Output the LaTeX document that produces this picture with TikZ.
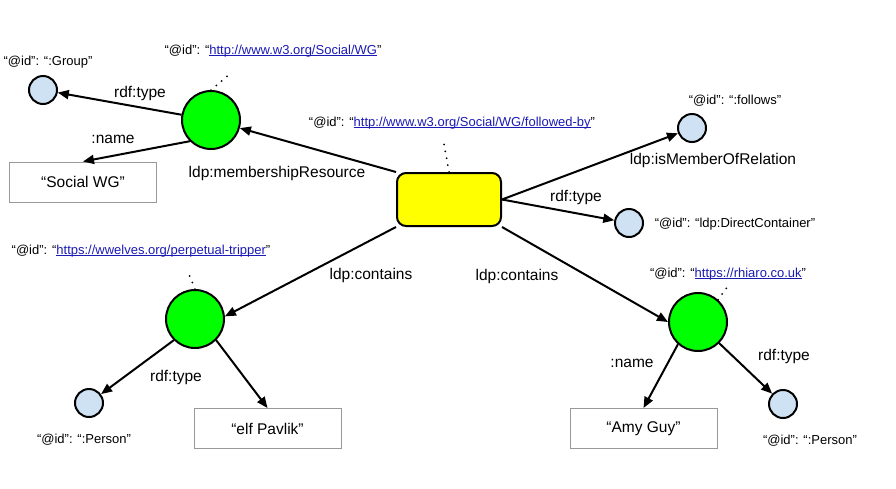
\documentclass[tikz,border=0pt]{standalone}
\usepackage{fontspec}
\setmainfont{Liberation Sans}
\usepackage{xcolor}
\usetikzlibrary{arrows.meta}
\definecolor{resgreen}{HTML}{00FF00}
\definecolor{collyellow}{HTML}{FFFF00}
\definecolor{clsblue}{HTML}{CFE2F3}
\definecolor{linkblue}{HTML}{1A1AB4}
\definecolor{litgray}{HTML}{999999}
\newcommand{\lnk}[1]{\textcolor{linkblue}{\setbox0\hbox{#1}\rlap{\rule[-1.6pt]{\wd0}{0.9pt}}\box0}}

\begin{document}
\begin{tikzpicture}[x=1pt, y=-1pt, >={Triangle[length=11pt,width=9pt]}, line width=2pt,
    res/.style={circle, draw, fill=resgreen, minimum size=58pt, inner sep=0pt},
    cls/.style={circle, draw, fill=clsblue, minimum size=28pt, inner sep=0pt},
    container/.style={draw, fill=collyellow, rounded corners=9pt, minimum width=104pt, minimum height=53pt},
    lit/.style={draw=litgray, line width=1pt, minimum width=147pt, minimum height=40pt, font=\fontsize{15.5}{18}\selectfont},
    lbl/.style={font=\fontsize{15.5}{18}\selectfont, inner sep=0pt},
    idl/.style={font=\fontsize{13}{15}\selectfont, inner sep=0pt},
    dots/.style={line width=2pt, line cap=round, dash pattern=on 0pt off 7pt}]
    \useasboundingbox (0,0) rectangle (896,488);

    % resources and values
    \node[container] (coll) at (449,199.5) {};
    \node[res] (wg) at (211,120) {};
    \node[cls] (grp) at (43,90) {};
    \node[lit] (wgname) at (83,182) {“Social WG”};
    \node[cls] (follows) at (692,128) {};
    \node[cls] (dc) at (629,223) {};
    \node[res] (elf) at (195,319) {};
    \node[cls] (elfcls) at (89,403) {};
    \node[lit] (elfname) at (267.5,428.5) {“elf Pavlik”};
    \node[res] (amy) at (698,322) {};
    \node[cls] (amycls) at (783,404) {};
    \node[lit] (amyname) at (643.5,428.5) {“Amy Guy”};

    % ids
    \node[idl] (grpid) at (48,62) {“@id”: “:Group”};
    \node[idl] (wgid) at (273,51) {“@id”: “\lnk{http://www.w3.org/Social/WG}”};
    \node[idl] (collid) at (452,123) {“@id”: “\lnk{http://www.w3.org/Social/WG/followed-by}”};
    \node[idl] (followsid) at (735,101) {“@id”: “:follows”};
    \node[idl] (dcid) at (735,224) {“@id”: “ldp:DirectContainer”};
    \node[idl] (elfid) at (141,251) {“@id”: “\lnk{https://wwelves.org/perpetual-tripper}”};
    \node[idl] (elfclsid) at (84,440) {“@id”: “:Person”};
    \node[idl] (amyid) at (728,274) {“@id”: “\lnk{https://rhiaro.co.uk}”};
    \node[idl] (amyclsid) at (810,441) {“@id”: “:Person”};

    % dots towards the ids
    \coordinate (wgdot) at (232,72);
    \coordinate (colldot) at (444,144);
    \coordinate (elfdot) at (188,272);
    \coordinate (amydot) at (728,286);
    \draw[dots] (wg.north) -- (wgdot);
    \draw[dots] (coll.north) -- (colldot);
    \draw[dots] (elf.north) -- (elfdot);
    \draw[dots] (amy.48) -- (amydot);

    % properties
    \draw[->] (coll.north west) -- (wg);
    \draw[->] (wg) -- (grp);
    \draw[->] (wg.225) -- (wgname.north);
    \draw[->] (coll.east) -- (follows);
    \draw[->] (coll.east) -- (dc);
    \draw[->] (coll.south west) -- (elf.5);
    \draw[->] (coll.south east) -- (amy.west);
    \draw[->] (elf.225) -- (elfcls);
    \draw[->] (elf.-45) -- (elfname.north);
    \draw[->] (amy.228) -- (amyname.north);
    \draw[->] (amy.-45) -- (amycls);

    \node[lbl] (wgtype) at (140,93) {rdf:type};
    \node[lbl] (wgnamelbl) at (113,139) {:name};
    \node[lbl] (memres) at (277,173) {ldp:membershipResource};
    \node[lbl] (memrel) at (713,160) {ldp:isMemberOfRelation};
    \node[lbl] (colltype) at (576,197) {rdf:type};
    \node[lbl] (elfcont) at (371,275) {ldp:contains};
    \node[lbl] (amycont) at (517,276) {ldp:contains};
    \node[lbl] (elftype) at (176,377) {rdf:type};
    \node[lbl] (amynamelbl) at (632,363) {:name};
    \node[lbl] (amytype) at (784,356) {rdf:type};
\end{tikzpicture}
\end{document}
